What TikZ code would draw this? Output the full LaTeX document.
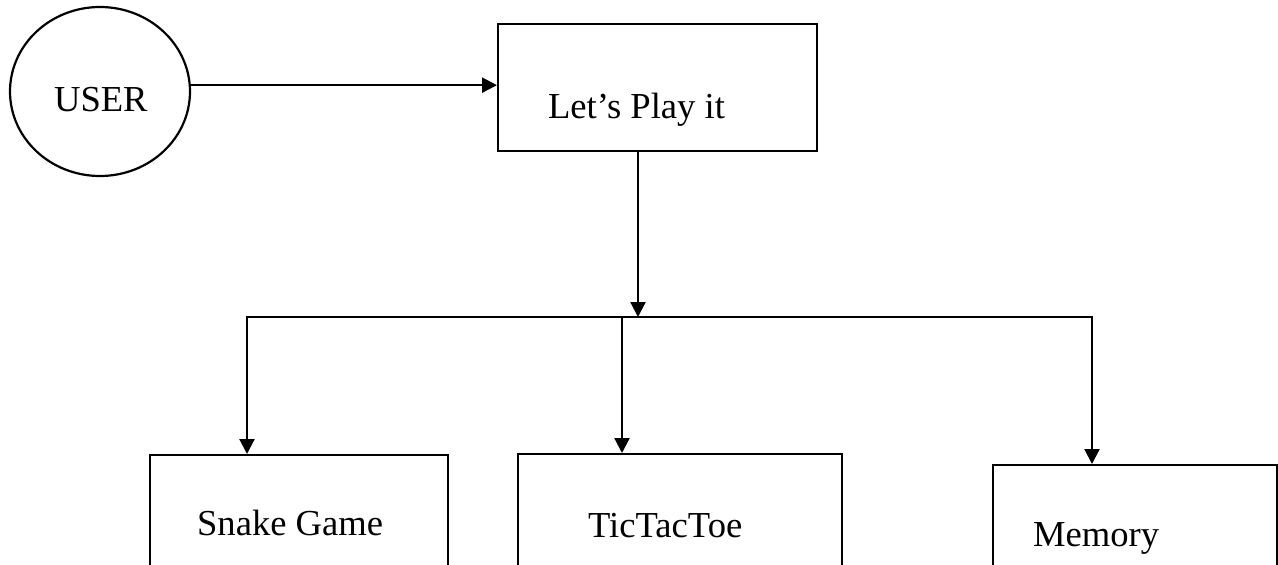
\documentclass[tikz,border=0pt]{standalone}
\usepackage{fontspec}
\setmainfont{Liberation Serif}
\usetikzlibrary{shapes.geometric,arrows.meta}
\begin{document}
\begin{tikzpicture}[x=1pt,y=-1pt,
  line width=2.2pt,
  box/.style={draw, rectangle, line width=2.2pt, anchor=north west, inner sep=0pt},
  lbl/.style={anchor=base west, inner sep=0pt, font=\fontsize{36.6}{44}\selectfont},
  tip/.tip={Triangle[length=15pt,width=15pt]},
  arr/.style={-tip}]
\useasboundingbox (0,0) rectangle (1278,565);
\clip (0,0) rectangle (1278,565);

% user and main menu
\node[draw, ellipse, minimum width=180pt, minimum height=169pt, inner sep=0pt] (user) at (100,91.5) {};
\node[lbl] (usert) at (53,111) {USER};
\node[box, minimum width=319pt, minimum height=127pt] (play) at (497,23) {};
\node[lbl] (playt) at (547,118) {Let’s Play it};

% game boxes (running off the bottom edge)
\node[box, minimum width=298pt, minimum height=200pt] (snake) at (149,454) {};
\node[lbl] (snaket) at (196,535) {Snake Game};
\node[box, minimum width=324pt, minimum height=200pt] (ttt) at (517,453) {};
\node[lbl] (tttt) at (587,537) {TicTacToe};
\node[box, minimum width=284pt, minimum height=200pt] (mem) at (992,464) {};
\node[lbl] (memt) at (1032,546) {Memory};

% branching points
\coordinate (split) at (638,317);
\coordinate (hl) at (247,317);
\coordinate (hm) at (622,317);
\coordinate (hr) at (1092,317);

% connectors
\draw[arr] (user.4.8) -- (user.4.8 -| play.west);
\draw[arr] (play.south -| split) -- (split);
\draw[tip-tip] (snake.north -| hl) -- (hl) -- (hr) -- (mem.north -| hr);
\draw[arr] (hm) -- (ttt.north -| hm);
\end{tikzpicture}
\end{document}
